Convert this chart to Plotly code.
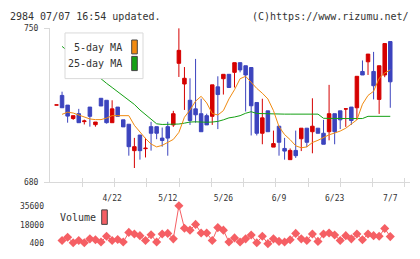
import plotly.graph_objects as go

# ---------------- data ----------------
idx = list(range(61))
tick_idx = [10, 20, 30, 40, 50, 60]
tick_text = ["4/22", "5/12", "5/26", "6/9", "6/23", "7/7"]
price_ticks = [680, 750]
vol_ticks = [400, 18000, 35600]
vol_tick_text = ["400", "18000", "35600"]

open_ = [715.0, 719.4, 715.0, 708.9, 711.1, 707.5, 714.1, 706.1, 718.1, 717.2,
         707.0, 714.1, 708.3, 706.3, 694.3, 701.4, 695.2, 705.2, 705.2, 700.0,
         705.2, 706.0, 734.0, 724.6, 717.2, 713.3, 711.1, 710.2, 709.9, 723.3,
         727.0, 729.0, 729.9, 734.3, 732.9, 732.1, 716.2, 702.2, 712.4, 695.9,
         705.4, 695.3, 690.2, 694.4, 699.7, 704.5, 702.9, 704.5, 702.2, 702.9,
         711.1, 712.4, 713.2, 714.1, 713.8, 730.3, 734.7, 730.3, 717.6, 728.7,
         743.9]
high = [715.1, 721.1, 715.0, 710.2, 713.3, 708.4, 714.1, 707.3, 718.1, 717.2,
        717.2, 714.1, 708.3, 706.3, 700.1, 701.4, 700.1, 707.4, 705.2, 704.8,
        707.4, 712.4, 750.0, 732.3, 727.2, 736.0, 717.9, 711.1, 724.2, 728.1,
        729.0, 729.0, 734.3, 734.3, 732.9, 732.1, 716.2, 717.9, 712.4, 703.4,
        705.4, 700.1, 695.3, 703.4, 704.5, 704.5, 718.1, 704.5, 708.3, 724.2,
        711.1, 712.4, 713.3, 714.1, 728.1, 735.3, 738.2, 739.2, 732.9, 743.0,
        743.9]
low = [715.0, 713.8, 707.0, 708.3, 707.0, 706.2, 705.2, 705.2, 714.6, 706.6,
       707.0, 709.9, 705.1, 692.0, 686.4, 690.2, 691.2, 694.3, 699.5, 696.1,
       692.0, 705.1, 727.8, 712.8, 706.0, 707.0, 702.9, 706.0, 706.0, 704.1,
       719.8, 723.0, 723.0, 729.9, 712.1, 701.2, 701.2, 697.2, 702.9, 695.9,
       692.0, 690.2, 690.2, 691.0, 694.1, 695.9, 693.1, 702.2, 697.2, 699.0,
       697.2, 704.1, 705.1, 706.0, 708.3, 728.7, 728.7, 717.6, 711.0, 727.7,
       713.8]
close = [715.1, 713.8, 710.0, 710.2, 707.0, 707.8, 709.9, 707.3, 714.6, 707.0,
         713.3, 709.9, 705.1, 696.1, 696.1, 694.3, 695.4, 702.2, 702.2, 698.9,
         700.0, 711.1, 739.9, 727.2, 708.0, 710.6, 702.9, 706.0, 724.2, 719.8,
         729.0, 723.0, 734.3, 731.0, 728.7, 714.7, 702.2, 709.2, 702.9, 697.5,
         698.1, 694.1, 694.4, 692.0, 704.5, 698.1, 705.4, 702.2, 697.2, 711.1,
         702.9, 708.3, 713.3, 708.0, 728.1, 728.7, 738.2, 723.8, 732.9, 743.0,
         725.6]
ma5 = [None, 710.8, 711.8, 711.4, 710.5, 709.6, 708.7, 708.4, 708.4, 709.1,
       710.2, 710.2, 710.2, 710.2, 705.8, 702.6, 699.8, 697.3, 696.0, 696.7,
       698.2, 699.4, 702.6, 709.5, 712.8, 716.8, 719.0, 716.0, 711.2, 710.5,
       712.5, 717.8, 722.0, 727.0, 728.1, 725.2, 722.6, 720.4, 717.8, 712.5,
       705.2, 701.6, 699.3, 696.5, 695.6, 696.0, 698.0, 699.0, 700.4, 701.5,
       702.3, 703.2, 704.5, 706.5, 708.3, 715.4, 719.4, 721.3, 727.2, 729.6,
       731.0]
ma25 = [None, 741.7, 739.6, 737.4, 735.3, 733.1, 731.0, 728.8, 726.7, 724.9,
        723.0, 721.1, 719.3, 717.6, 715.3, 712.8, 710.6, 708.4, 706.5, 706.2,
        706.2, 706.3, 706.4, 706.8, 707.3, 707.4, 707.2, 707.2, 707.3, 707.6,
        708.3, 709.2, 709.6, 710.2, 711.3, 712.0, 711.2, 711.1, 710.9, 710.9,
        710.9, 710.9, 710.9, 710.9, 710.9, 710.9, 710.9, 710.9, 709.0, 708.9,
        708.9, 708.9, 708.9, 708.9, 708.9, 708.9, 709.9, 709.9, 709.9, 709.9,
        709.9]
volume = [None, 3380, 6370, 1290, 3380, 1290, 4870, 3980, 1890, 7260,
          3380, 4280, 1890, 10840, 9350, 7860, 3380, 8750, 1890, 9350,
          9950, 4870, 35600, 14720, 12930, 18300, 10240, 10240, 3380, 15320,
          12930, 1890, 5770, 1890, 4870, 8450, 1200, 7260, 400, 4870,
          2490, 1890, 3980, 9950, 4870, 3380, 9350, 2490, 9350, 10240,
          8450, 3380, 7860, 4870, 9350, 3980, 9350, 7860, 7260, 14420,
          6960]

# ---------------- style ----------------
RED = "#d50000"
BLUE = "#3c44be"
ORANGE = "#f08a10"
GREEN = "#14a014"
VOLC = "#f55f64"
AXC = "#d9d9d9"
TXT = "#333333"
FONT = "DejaVu Sans Mono"
W, H = 420, 259


def px(x):
    return x / W


def py(y):
    return 1 - y / H


fig = go.Figure()
fig.add_trace(go.Scatter(x=idx, y=ma25, mode="lines", line=dict(color=GREEN, width=1),
                         xaxis="x", yaxis="y", hoverinfo="skip"))
fig.add_trace(go.Scatter(x=idx, y=ma5, mode="lines", line=dict(color=ORANGE, width=1),
                         xaxis="x", yaxis="y", hoverinfo="skip"))
fig.add_trace(go.Candlestick(
    x=idx, open=open_, high=high, low=low, close=close,
    increasing=dict(line=dict(color=RED, width=1), fillcolor=RED),
    decreasing=dict(line=dict(color=BLUE, width=1), fillcolor=BLUE),
    whiskerwidth=0, xaxis="x", yaxis="y"))
fig.add_trace(go.Scatter(x=idx, y=volume, mode="lines+markers",
                         line=dict(color=VOLC, width=1),
                         marker=dict(symbol="diamond", size=7, color=VOLC),
                         cliponaxis=False, xaxis="x2", yaxis="y2"))
# empty helper traces so the tick-mark overlay axes get drawn
for xa, ya in (("x3", "y"), ("x4", "y"), ("x", "y3")):
    fig.add_trace(go.Scatter(x=[None], y=[None], mode="markers", xaxis=xa, yaxis=ya,
                             hoverinfo="skip"))

xr = [-1.168, 63.545]
main_dom = [py(184.5), py(25)]
fig.update_layout(
    width=W, height=H, margin=dict(l=0, r=0, t=0, b=0),
    paper_bgcolor="white", plot_bgcolor="white", showlegend=False,
    boxgap=0.1,
    font=dict(family=FONT, size=8, color=TXT),
    xaxis=dict(domain=[px(50), px(410)], range=xr, anchor="y",
               tickvals=tick_idx, ticktext=tick_text, ticks="",
               showline=True, linecolor=AXC, linewidth=1, showgrid=False,
               zeroline=False, rangeslider=dict(visible=False),
               tickfont=dict(family=FONT, size=8, color=TXT), ticklabelstandoff=8),
    yaxis=dict(domain=main_dom, range=[680, 750], anchor="x",
               tickvals=price_ticks, ticks="outside", ticklen=5, tickcolor=AXC,
               showline=True, linecolor=AXC, linewidth=1, showgrid=False,
               zeroline=False, tickfont=dict(family=FONT, size=8, color=TXT),
               ticklabelstandoff=4),
    xaxis3=dict(overlaying="x", anchor="y", range=[0, 360 / 32.27],
                tickvals=list(range(1, 12)), ticks="outside", ticklen=4,
                tickcolor=AXC, showticklabels=False, showgrid=False,
                zeroline=False, showline=False),
    xaxis4=dict(overlaying="x", anchor="y", range=[0, 360 / 32.27],
                tickvals=list(range(1, 12)), ticks="inside", ticklen=4,
                tickcolor=AXC, showticklabels=False, showgrid=False,
                zeroline=False, showline=False),
    yaxis3=dict(overlaying="y", anchor="x", range=[680, 750], tickvals=price_ticks,
                ticks="inside", ticklen=5, tickcolor=AXC, showticklabels=False,
                showgrid=False, zeroline=False, showline=False),
    xaxis2=dict(domain=[px(50), px(410)], range=xr, anchor="y2", visible=False),
    yaxis2=dict(domain=[py(248.3), py(209)], range=[400, 35600], anchor="x2",
                tickvals=vol_ticks, ticktext=vol_tick_text, ticks="",
                showline=False, showgrid=False, zeroline=False,
                tickfont=dict(family=FONT, size=8, color=TXT),
                ticklabelstandoff=5),
)

shapes = [
    dict(type="rect", xref="paper", yref="paper", x0=px(65), x1=px(143),
         y0=py(77.3), y1=py(30), fillcolor="white", line=dict(color=AXC, width=1),
         layer="above"),
    dict(type="rect", xref="paper", yref="paper", x0=px(131.7), x1=px(137.3),
         y0=py(51.7), y1=py(37.3), fillcolor=ORANGE, line=dict(color="#444", width=1),
         layer="above"),
    dict(type="rect", xref="paper", yref="paper", x0=px(131.7), x1=px(137.3),
         y0=py(69), y1=py(54.3), fillcolor=GREEN, line=dict(color="#444", width=1),
         layer="above"),
    dict(type="rect", xref="paper", yref="paper", x0=px(101.7), x1=px(107.3),
         y0=py(228.3), y1=py(213.3), fillcolor=VOLC, line=dict(color="#444", width=1),
         layer="above"),
]
fig.update_layout(shapes=shapes)

ann = [
    dict(text="2984 07/07 16:54 updated.", x=px(8), y=py(13), xanchor="left"),
    dict(text="(C)https://www.rizumu.net/", x=px(411), y=py(13), xanchor="right"),
    dict(text="5-day MA", x=px(124), y=py(45), xanchor="right"),
    dict(text="25-day MA", x=px(124), y=py(62), xanchor="right"),
    dict(text="Volume", x=px(58), y=py(221), xanchor="left"),
]
for a in ann:
    fig.add_annotation(xref="paper", yref="paper", showarrow=False, yanchor="middle",
                       font=dict(family=FONT, size=10, color=TXT), **a)

fig.write_html("out.html")
